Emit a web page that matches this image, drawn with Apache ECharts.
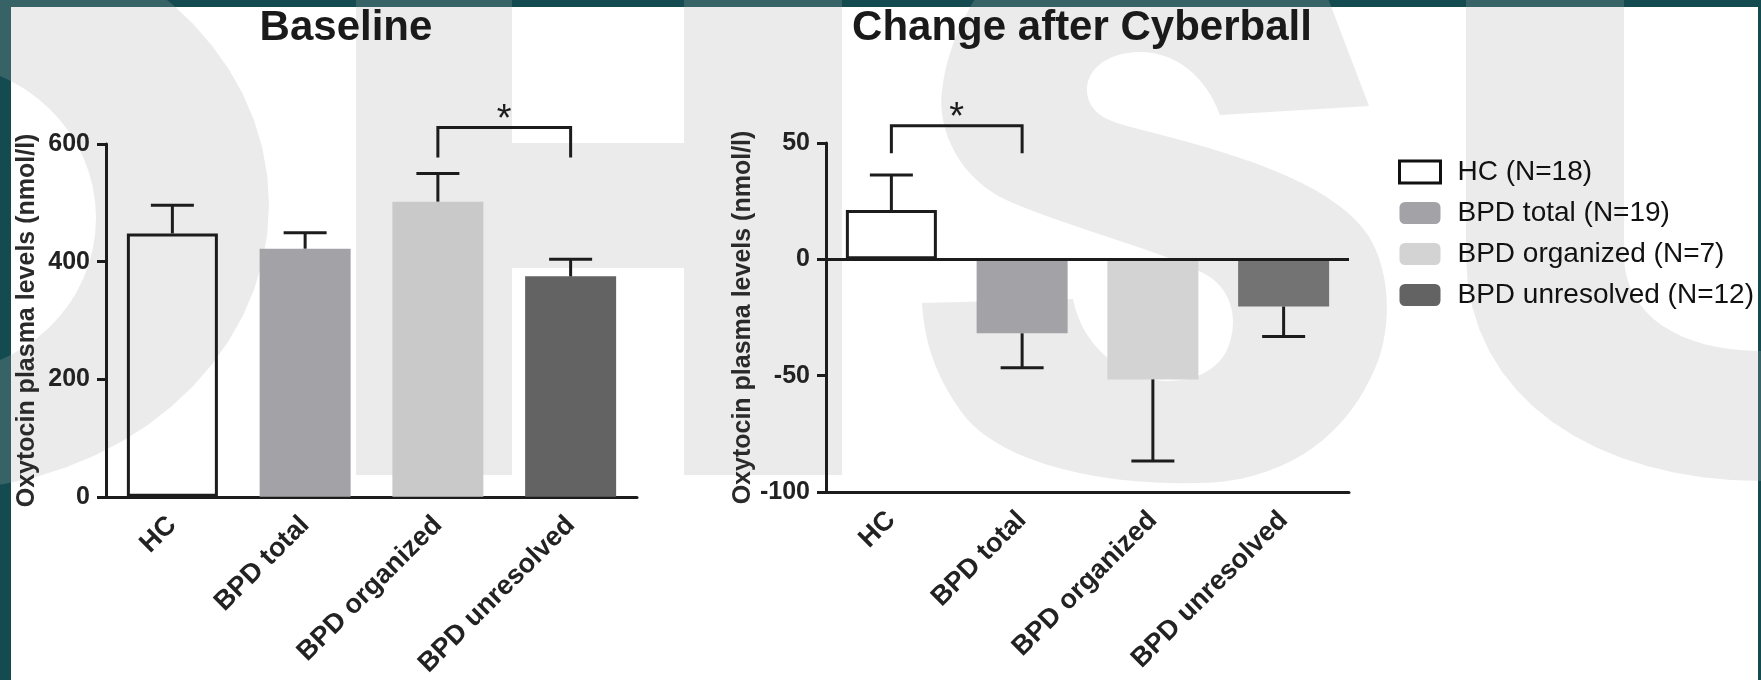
<!DOCTYPE html>
<html><head><meta charset="utf-8">
<script src="https://cdn.jsdelivr.net/npm/echarts@6/dist/echarts.min.js"></script>
<style>html,body{margin:0;padding:0;background:#fff}#c{width:1761px;height:680px}</style>
</head><body><div id="c"></div>
<script>
// ---- data ----
const categories = ['HC', 'BPD total', 'BPD organized', 'BPD unresolved'];
const legendNames = ['HC (N=18)', 'BPD total (N=19)', 'BPD organized (N=7)', 'BPD unresolved (N=12)'];
const baselineMeans = [448, 422, 502, 375];
const baselineErrEnds = [496, 449, 550, 404];
const changeMeans = [21.2, -31.8, -51.6, -20.3];
const changeErrEnds = [36.2, -46.6, -86.7, -33.2];
const baselineAxis = { min: 0, max: 600, interval: 200 };
const changeAxis = { min: -100, max: 50, interval: 50 };
const baselineBracket = [2, 3, 577, 628];   // from category, to category, foot value, top value
const changeBracket = [0, 1, 45.6, 57.4];
const titles = ['Baseline', 'Change after Cyberball'];
const yName = 'Oxytocin plasma levels (nmol/l)';

// ---- styles ----
const FF = '"Liberation Sans", Arial, Helvetica, sans-serif';
const INK = '#1c1c1c';
const leftColors = ['rgba(0,0,0,0)', '#a3a3a7', '#c9c9c9', '#636363'];
const rightColors = ['rgba(0,0,0,0)', '#a3a3a7', '#d3d3d3', '#737373'];
const legendColors = ['rgba(0,0,0,0)', '#a3a3a7', '#d3d3d3', '#636363'];
const TEAL = '#134b51';
const WM = 'rgba(170,170,170,0.24)';

// background watermark outlines (decoration only), sampled into polygons
function ell(cx, cy, rx, ry, rev) {
  const k = 0.5523, kx = rx * k, ky = ry * k;
  if (!rev) return `M ${cx+rx} ${cy} C ${cx+rx} ${cy+ky} ${cx+kx} ${cy+ry} ${cx} ${cy+ry} C ${cx-kx} ${cy+ry} ${cx-rx} ${cy+ky} ${cx-rx} ${cy} C ${cx-rx} ${cy-ky} ${cx-kx} ${cy-ry} ${cx} ${cy-ry} C ${cx+kx} ${cy-ry} ${cx+rx} ${cy-ky} ${cx+rx} ${cy} `;
  return `M ${cx+rx} ${cy} C ${cx+rx} ${cy-ky} ${cx+kx} ${cy-ry} ${cx} ${cy-ry} C ${cx-kx} ${cy-ry} ${cx-rx} ${cy-ky} ${cx-rx} ${cy} C ${cx-rx} ${cy+ky} ${cx-kx} ${cy+ry} ${cx} ${cy+ry} C ${cx+kx} ${cy+ry} ${cx+rx} ${cy+ky} ${cx+rx} ${cy} `;
}
const wmO = ell(-64, 205, 333, 285, false) + ell(-64, 218, 160, 155, true);
const wmH = 'M356 -20 L512 -20 L512 143 L684 143 L684 -20 L842 -20 L842 475 L684 475 L684 268 L512 268 L512 475 L356 475';
const wmS = 'M1321 -20 L1369 106 L1220 115 C1205 75 1175 52 1140 52 C1105 52 1085 72 1087 92 C1089 112 1105 120 1127 126 C1230 152 1330 180 1368 235 C1393 275 1392 335 1372 375 C1340 445 1275 482 1200 483 C1080 486 990 455 960 410 C935 375 924 340 922 303 L1073 299 C1080 335 1105 365 1143 377 C1175 387 1212 378 1226 352 C1240 322 1232 292 1210 277 C1170 252 1060 226 1000 197 C955 172 937 125 942 90 C948 40 975 -10 1000 -30';
const wmU = 'M1466 -20 L1624 -20 L1624 255 C1624 315 1680 351 1761 351 L1770 351 L1770 481 L1761 481 C1600 481 1466 400 1466 255';

function samplePath(d) {
  const tk = d.replace(/([MLC])/g, ' $1 ').trim().split(/[\s,]+/);
  const pts = [];
  let i = 0, cur = [0, 0], cmd = '';
  while (i < tk.length) {
    if (/^[MLC]$/.test(tk[i])) { cmd = tk[i]; i++; continue; }
    if (cmd === 'M' || cmd === 'L') {
      cur = [+tk[i], +tk[i + 1]]; pts.push(cur.slice()); i += 2;
    } else if (cmd === 'C') {
      const c1 = [+tk[i], +tk[i+1]], c2 = [+tk[i+2], +tk[i+3]], e = [+tk[i+4], +tk[i+5]];
      for (let s = 1; s <= 16; s++) {
        const t = s / 16, u = 1 - t;
        pts.push([u*u*u*cur[0] + 3*u*u*t*c1[0] + 3*u*t*t*c2[0] + t*t*t*e[0],
                  u*u*u*cur[1] + 3*u*u*t*c1[1] + 3*u*t*t*c2[1] + t*t*t*e[1]]);
      }
      cur = e; i += 6;
    } else { i++; }
  }
  return pts;
}

function errRender(params, api) {
  const i = api.value(0);
  const p0 = api.coord([i, api.value(1)]);
  const p1 = api.coord([i, api.value(2)]);
  const h = 21.5;
  const st = { stroke: INK, lineWidth: 3 };
  return { type: 'group', children: [
    { type: 'line', shape: { x1: p0[0], y1: p0[1], x2: p1[0], y2: p1[1] }, style: st },
    { type: 'line', shape: { x1: p1[0] - h, y1: p1[1], x2: p1[0] + h, y2: p1[1] }, style: st }
  ]};
}
function bracketRender(params, api) {
  const a = api.coord([api.value(0), api.value(3)]);
  const b = api.coord([api.value(1), api.value(3)]);
  const f = api.coord([api.value(0), api.value(2)]);
  return { type: 'group', children: [
    { type: 'polyline', shape: { points: [[a[0], f[1]], [a[0], a[1]], [b[0], a[1]], [b[0], f[1]]] },
      style: { stroke: INK, lineWidth: 3, fill: null } },
    { type: 'text', x: (a[0] + b[0]) / 2, y: a[1] - 7.5,
      style: { text: '*', font: '38px ' + FF, fill: INK, textAlign: 'center', textVerticalAlign: 'middle' } }
  ]};
}

function xAxisCfg(grid, onZero) {
  return {
    type: 'category', gridIndex: grid, data: categories,
    axisLine: { onZero: onZero, lineStyle: { color: INK, width: 3 } },
    axisTick: { alignWithLabel: true, length: 9, lineStyle: { color: INK, width: 3 } },
    axisLabel: { rotate: 45, fontSize: 27, fontWeight: 'bold', color: '#222', margin: 24, fontFamily: FF },
    splitLine: { show: false }
  };
}
function yAxisCfg(grid, ax, gap) {
  return {
    type: 'value', gridIndex: grid, min: ax.min, max: ax.max, interval: ax.interval,
    axisLine: { show: true, lineStyle: { color: INK, width: 3 } },
    axisTick: { show: true, length: 9, lineStyle: { color: INK, width: 3 } },
    axisLabel: { fontSize: 25, fontWeight: 'bold', color: '#222', margin: 16, fontFamily: FF },
    splitLine: { show: false },
    name: yName, nameLocation: 'middle', nameRotate: 90, nameGap: gap,
    nameTextStyle: { fontSize: 25, fontWeight: 'bold', color: '#2a2a2a', fontFamily: FF }
  };
}

const series = [];
[0, 1].forEach(function (gi) {
  const means = gi === 0 ? baselineMeans : changeMeans;
  const cols = gi === 0 ? leftColors : rightColors;
  legendNames.forEach(function (nm, g) {
    const s = {
      type: 'bar', name: nm, xAxisIndex: gi, yAxisIndex: gi, barWidth: 91, barGap: '-100%',
      silent: true, z: 2,
      data: categories.map(function (c, i) { return i === g ? means[i] : '-'; }),
      itemStyle: g === 0 ? { color: cols[0], borderColor: INK, borderWidth: 3 } : { color: cols[g] }
    };
    if (gi === 1 && g === 0) {
      s.markLine = { silent: true, symbol: ['none', 'none'], label: { show: false },
        lineStyle: { color: INK, width: 3, type: 'solid' }, data: [{ yAxis: 0 }] };
    }
    series.push(s);
  });
});
series.push({ type: 'custom', xAxisIndex: 0, yAxisIndex: 0, z: 5, silent: true, renderItem: errRender,
  data: categories.map(function (c, i) { return [i, baselineMeans[i], baselineErrEnds[i]]; }) });
series.push({ type: 'custom', xAxisIndex: 1, yAxisIndex: 1, z: 5, silent: true, renderItem: errRender,
  data: categories.map(function (c, i) { return [i, changeMeans[i], changeErrEnds[i]]; }) });
series.push({ type: 'custom', xAxisIndex: 0, yAxisIndex: 0, z: 5, silent: true, renderItem: bracketRender, clip: false,
  data: [baselineBracket] });
series.push({ type: 'custom', xAxisIndex: 1, yAxisIndex: 1, z: 5, silent: true, renderItem: bracketRender, clip: false,
  data: [changeBracket] });

const wmElems = [wmO, wmH, wmS, wmU].map(function (d) {
  return { type: 'polygon', z: -15, silent: true, shape: { points: samplePath(d) }, style: { fill: WM } };
});

const option = {
  animation: false,
  backgroundColor: '#ffffff',
  textStyle: { fontFamily: FF },
  grid: [
    { left: 106, top: 144, width: 531, height: 355 },
    { left: 826, top: 143, width: 523, height: 349 }
  ],
  xAxis: [xAxisCfg(0, true), xAxisCfg(1, false)],
  yAxis: [yAxisCfg(0, baselineAxis, 66), yAxisCfg(1, changeAxis, 70)],
  legend: {
    orient: 'vertical', left: 1393, top: 153, itemWidth: 41, itemHeight: 22, itemGap: 13,
    selectedMode: false,
    textStyle: { fontSize: 28, color: '#111', fontFamily: FF, padding: [0, 0, 0, 12] },
    data: legendNames.map(function (n, g) {
      return { name: n, icon: g === 0 ? 'rect' : 'roundRect',
        itemStyle: g === 0 ? { color: legendColors[0], borderColor: '#111', borderWidth: 3 } : { color: legendColors[g], borderWidth: 0 } };
    })
  },
  graphic: [
    { type: 'rect', z: -20, silent: true, shape: { x: 0, y: 0, width: 1761, height: 7 }, style: { fill: TEAL } },
    { type: 'rect', z: -20, silent: true, shape: { x: 0, y: 0, width: 11, height: 680 }, style: { fill: TEAL } },
    { type: 'rect', z: -20, silent: true, shape: { x: 1758, y: 0, width: 3, height: 680 }, style: { fill: TEAL } }
  ].concat(wmElems).concat([
    { type: 'text', z: 10, x: 346, y: 28, style: { text: titles[0], font: 'bold 42px ' + FF, fill: '#1a1a1a', textAlign: 'center', textVerticalAlign: 'middle' } },
    { type: 'text', z: 10, x: 1082, y: 28, style: { text: titles[1], font: 'bold 42px ' + FF, fill: '#1a1a1a', textAlign: 'center', textVerticalAlign: 'middle' } }
  ]),
  series: series
};
const chart = echarts.init(document.getElementById('c'), null, { renderer: 'canvas' });
chart.setOption(option);
</script>
</body></html>
